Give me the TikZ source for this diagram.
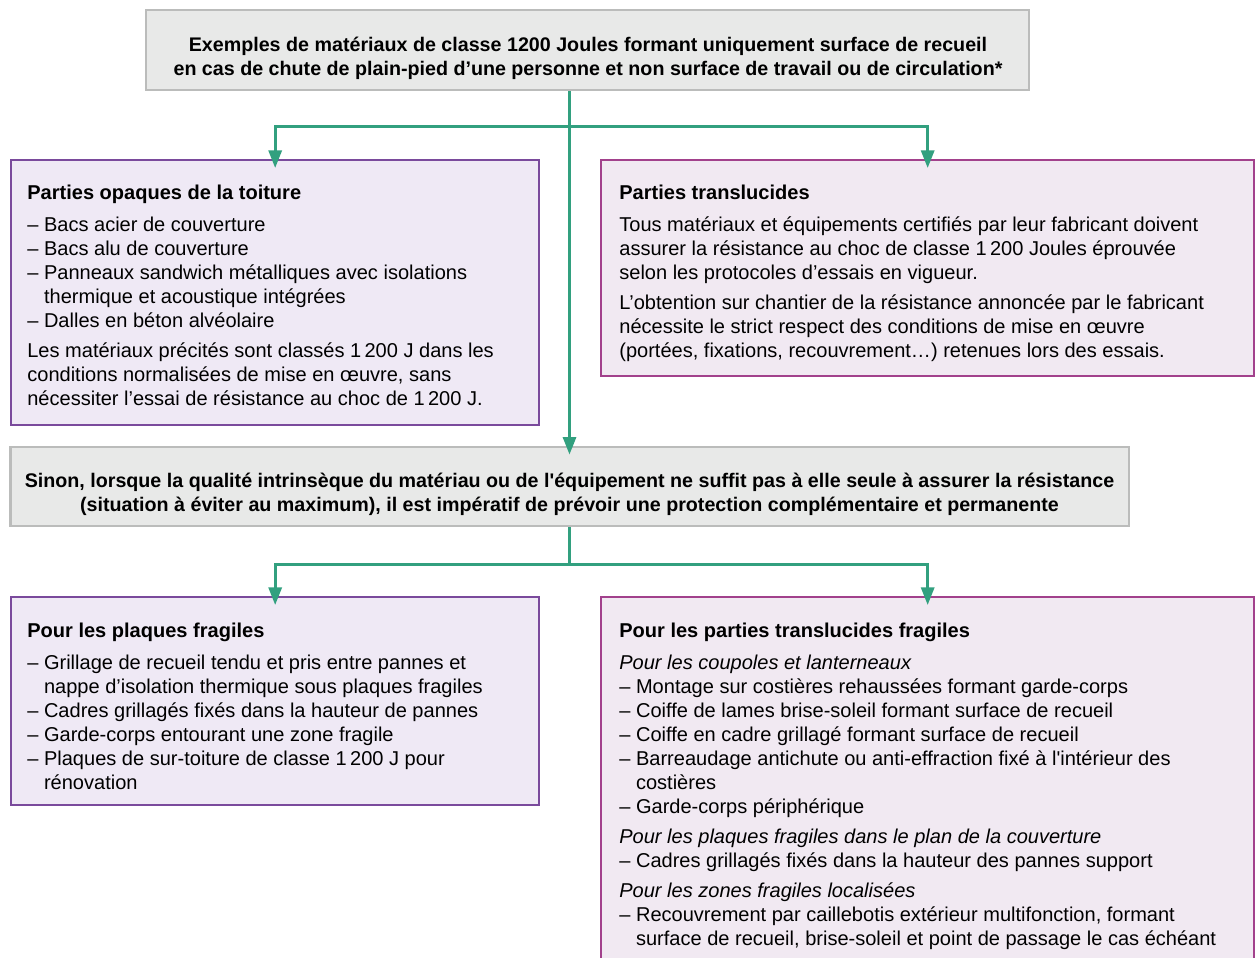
\documentclass[tikz,border=0pt]{standalone}
\usepackage{fontspec}
\setmainfont{Liberation Sans}
\usetikzlibrary{arrows.meta}
\definecolor{boxgray}{HTML}{E8E9E8}
\definecolor{linegray}{HTML}{BBBCBB}
\definecolor{opqviolet}{HTML}{7A4A9C}
\definecolor{opqfill}{HTML}{EFE9F5}
\definecolor{transmagenta}{HTML}{A2418C}
\definecolor{transfill}{HTML}{F1E9F2}
\definecolor{flowgreen}{HTML}{32A07F}
\newcommand\bodyfont{\fontsize{11.4}{13.66}\selectfont}
\newcommand\headfont{\fontsize{11.2}{13.66}\selectfont}
\newcommand\hang{\phantom{–\ }}
\newcommand\pgap{3.5pt}
\newcommand\tgap{4.4pt}
\tikzset{
  graybox/.style={draw=linegray, fill=boxgray, line width=1.6pt, inner sep=0pt},
  opqbox/.style={draw=opqviolet, fill=opqfill, line width=1.4pt, inner sep=0pt,
    anchor=north west, minimum width=10.56cm},
  transbox/.style={draw=transmagenta, fill=transfill, line width=1.4pt, inner sep=0pt,
    anchor=north west, minimum width=13.06cm},
  headtxt/.style={font=\headfont\bfseries, align=center, inner sep=0pt},
  bodytxt/.style={font=\bodyfont, align=left, anchor=north west, inner sep=0pt},
  link/.style={draw=flowgreen, line width=1.7pt, shorten >=-0.18cm,
    -{Triangle[length=10pt,width=7.4pt]}},
}

\begin{document}
\begin{tikzpicture}[x=0.02cm, y=-0.02cm]
  \useasboundingbox (0,0) rectangle (1256,957);
  \clip (0,0) rectangle (1256,957);
  % top question box
  \node[graybox, minimum width=17.66cm, minimum height=1.6cm] (top) at (587.5,50) {};
  \node[headtxt] (toptxt) at (588,58.5)
    {Exemples de matériaux de classe 1200 Joules formant uniquement surface de recueil\\
     en cas de chute de plain-pied d’une personne et non surface de travail ou de circulation*};
  % first row
  \node[opqbox, minimum height=5.3cm] (opq) at (10,159) {};
  \node[bodytxt] (opqtxt) at (27,185)
    {\textbf{Parties opaques de la toiture}\\[\tgap]
     – Bacs acier de couverture\\
     – Bacs alu de couverture\\
     – Panneaux sandwich métalliques avec isolations\\
     \hang thermique et acoustique intégrées\\
     – Dalles en béton alvéolaire\\[\pgap]
     Les matériaux précités sont classés 1\,200 J dans les\\
     conditions normalisées de mise en œuvre, sans\\
     nécessiter l’essai de résistance au choc de 1\,200 J.};
  \node[transbox, minimum height=4.32cm] (trans) at (600,159) {};
  \node[bodytxt] (transtxt) at (619,185)
    {\textbf{Parties translucides}\\[\tgap]
     Tous matériaux et équipements certifiés par leur fabricant doivent\\
     assurer la résistance au choc de classe 1\,200 Joules éprouvée\\
     selon les protocoles d’essais en vigueur.\\[\pgap]
     L’obtention sur chantier de la résistance annoncée par le fabricant\\
     nécessite le strict respect des conditions de mise en œuvre\\
     (portées, fixations, recouvrement…) retenues lors des essais.};
  % second question box
  \node[graybox, minimum width=22.38cm, minimum height=1.58cm] (sinon) at (569.5,486.5) {};
  \node[headtxt] (sinontxt) at (569.5,494)
    {Sinon, lorsque la qualité intrinsèque du matériau ou de l\textquotesingle équipement ne suffit pas à elle seule à assurer la résistance\\
     (situation à éviter au maximum), il est impératif de prévoir une protection complémentaire et permanente};
  % second row
  \node[opqbox, minimum height=4.16cm] (plq) at (10,596) {};
  \node[bodytxt] (plqtxt) at (27,623)
    {\textbf{Pour les plaques fragiles}\\[\tgap]
     – Grillage de recueil tendu et pris entre pannes et\\
     \hang nappe d’isolation thermique sous plaques fragiles\\
     – Cadres grillagés fixés dans la hauteur de pannes\\
     – Garde-corps entourant une zone fragile\\
     – Plaques de sur-toiture de classe 1\,200 J pour\\
     \hang rénovation};
  \node[transbox, minimum height=7.8cm] (frag) at (600,596) {};
  \node[bodytxt] (fragtxt) at (619,623)
    {\textbf{Pour les parties translucides fragiles}\\[\tgap]
     \textit{Pour les coupoles et lanterneaux}\\
     – Montage sur costières rehaussées formant garde-corps\\
     – Coiffe de lames brise-soleil formant surface de recueil\\
     – Coiffe en cadre grillagé formant surface de recueil\\
     – Barreaudage antichute ou anti-effraction fixé à l\textquotesingle intérieur des\\
     \hang costières\\
     – Garde-corps périphérique\\[\pgap]
     \textit{Pour les plaques fragiles dans le plan de la couverture}\\
     – Cadres grillagés fixés dans la hauteur des pannes support\\[\pgap]
     \textit{Pour les zones fragiles localisées}\\
     – Recouvrement par caillebotis extérieur multifonction, formant\\
     \hang surface de recueil, brise-soleil et point de passage le cas échéant};
  % connectors
  \draw[link] (top.south -| sinon.north) -- (sinon.north);
  \draw[link] (top.south -| sinon.north) -- ++(0,35) -| (opq.north);
  \draw[link] (top.south -| sinon.north) -- ++(0,35) -| (trans.north);
  \draw[link] (sinon.south) -- ++(0,37) -| (plq.north);
  \draw[link] (sinon.south) -- ++(0,37) -| (frag.north);
\end{tikzpicture}
\end{document}
